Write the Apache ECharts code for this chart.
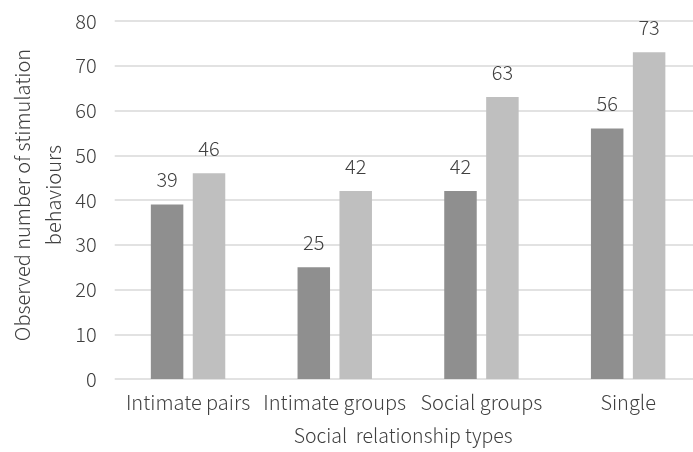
<!DOCTYPE html>
<html>
<head>
<meta charset="utf-8">
<script src="https://cdn.jsdelivr.net/npm/echarts@6/dist/echarts.min.js"></script>
<style>
  html, body { margin: 0; padding: 0; background: #fff; }
  #chart { width: 693px; height: 452px; }
</style>
</head>
<body>
<div id="chart"></div>
<script>
// Observed stimulation behaviours by social relationship type
const categories = ['Intimate pairs', 'Intimate groups', 'Social groups', 'Single'];
const seriesA = [39, 25, 42, 56];
const seriesB = [46, 42, 63, 73];
const yTicks = { min: 0, max: 80, interval: 10 };

const FONT = '"Noto Sans CJK SC", "Noto Sans", sans-serif';
const TEXT = '#404040';
const SIZE = 20;

const chart = echarts.init(document.getElementById('chart'), null, { renderer: 'canvas' });

const valueLabel = {
  show: true,
  position: 'top',
  distance: 15,
  color: TEXT,
  fontSize: SIZE,
  fontWeight: 300,
  fontFamily: FONT
};

chart.setOption({
  backgroundColor: '#ffffff',
  animation: false,
  textStyle: { fontFamily: FONT },
  // plot area runs slightly past the right edge of the canvas
  grid: { left: 114.7, right: -8.5, top: 21, bottom: 73, outerBoundsMode: 'none', containLabel: false },
  xAxis: {
    type: 'category',
    data: categories,
    axisTick: { show: false },
    axisLine: { show: false },
    axisLabel: { interval: 0, color: TEXT, fontSize: SIZE, fontWeight: 300, fontFamily: FONT, margin: 13 },
    name: 'Social  relationship types',
    nameLocation: 'middle',
    nameGap: 47,
    nameTextStyle: { color: TEXT, fontSize: 19.5, fontWeight: 300, fontFamily: FONT, padding: [0, 10, 0, 0] }
  },
  yAxis: {
    type: 'value',
    min: yTicks.min,
    max: yTicks.max,
    interval: yTicks.interval,
    axisLine: { show: false },
    axisTick: { show: false },
    splitLine: { show: true, lineStyle: { color: '#d9d9d9', width: 1.5 } },
    axisLabel: { color: TEXT, fontSize: SIZE, fontWeight: 300, fontFamily: FONT, margin: 18 },
    name: 'Observed number of stimulation\nbehaviours',
    nameLocation: 'middle',
    nameGap: 46,
    nameMoveOverlap: false,
    nameRotate: 90,
    nameTextStyle: { color: TEXT, fontSize: 20, fontWeight: 300, fontFamily: FONT, lineHeight: 31, padding: [0, 0, 0, 10] }
  },
  series: [
    {
      type: 'bar',
      data: seriesA,
      barWidth: 32.5,
      barGap: '29%',
      itemStyle: { color: '#8f8f8f' },
      label: valueLabel
    },
    {
      type: 'bar',
      data: seriesB,
      barWidth: 32.5,
      itemStyle: { color: '#bfbfbf' },
      label: valueLabel
    }
  ]
});
</script>
</body>
</html>
